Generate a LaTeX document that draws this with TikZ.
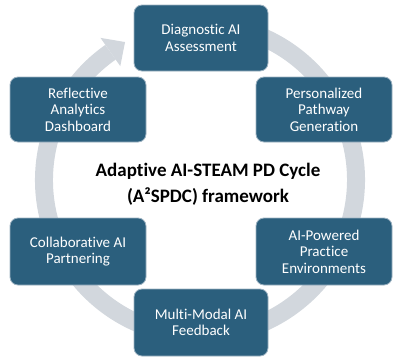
\documentclass[tikz,border=0pt]{standalone}
\usepackage{fontspec}
\setmainfont{Carlito}[Ligatures={NoCommon}]
\definecolor{boxc}{HTML}{2B5F7D}
\definecolor{ringc}{HTML}{D2D7DD}
\definecolor{edgec}{HTML}{9DB3C2}
\begin{document}
\begin{tikzpicture}[x=1pt,y=-1pt,
  stepbox/.style={draw=edgec,line width=0.8pt,fill=boxc,rounded corners=8pt,
    text=white,align=center,font=\fontsize{15}{16.5}\selectfont,inner sep=2pt},
  ring/.style={draw=ringc,line width=18pt}]
\useasboundingbox (0,0) rectangle (397,359);
\coordinate (c) at (200,180);
% ring with arrow
\draw[ring] ([shift={(200,180)}]-80:156) arc[start angle=-80,end angle=235,radius=156];
\fill[ringc] ([shift={(200,180)}]235:173.5) -- ([shift={(200,180)}]241.5:157) -- ([shift={(200,180)}]235:139) -- cycle;
% boxes
\node[stepbox,minimum width=134pt,minimum height=66pt] (diag) at (201,38) {Diagnostic AI\\Assessment};
\node[stepbox,minimum width=136pt,minimum height=65pt] (refl) at (78,109.5) {Reflective\\Analytics\\Dashboard};
\node[stepbox,minimum width=136pt,minimum height=65pt] (pers) at (324,109.5) {Personalized\\Pathway\\Generation};
\node[stepbox,minimum width=136pt,minimum height=67pt] (coll) at (78,251.5) {Collaborative AI\\Partnering};
\node[stepbox,minimum width=136pt,minimum height=67pt] (powr) at (324,251.5) {AI-Powered\\Practice\\Environments};
\node[stepbox,minimum width=134pt,minimum height=67pt] (mult) at (201,322.5) {Multi-Modal AI\\Feedback};
% title
\node[align=center,font=\fontsize{19}{26}\selectfont\bfseries] (title) at (208,184) {Adaptive AI-STEAM PD Cycle\\(A²SPDC) framework};
\end{tikzpicture}
\end{document}
